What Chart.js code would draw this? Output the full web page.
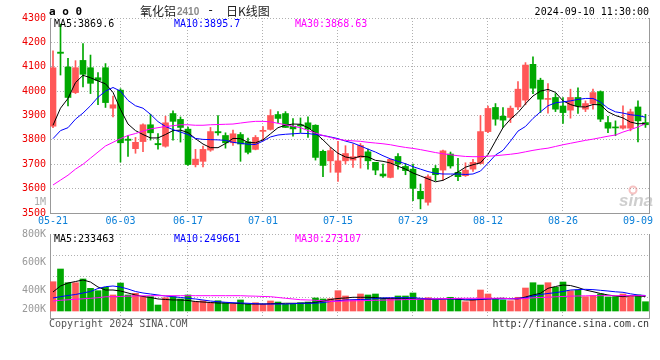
<!DOCTYPE html>
<html><head><meta charset="utf-8">
<script src="https://cdn.jsdelivr.net/npm/chart.js@4.4.1/dist/chart.umd.min.js"></script>
<style>
html,body{margin:0;padding:0;background:#fff;}
#wrap{position:relative;width:660px;height:360px;overflow:hidden;}
canvas{position:absolute;left:0;top:0;}
</style></head>
<body><div id="wrap"><canvas id="k" width="660" height="360"></canvas><canvas id="v" width="660" height="360"></canvas></div>
<script>
const dates = ['05-21','05-22','05-23','05-24','05-27','05-28','05-29','05-30','05-31',
 '06-03','06-04','06-05','06-06','06-07','06-11','06-12','06-13','06-14','06-17','06-18','06-19','06-20','06-21','06-24','06-25','06-26','06-27','06-28',
 '07-01','07-02','07-03','07-04','07-05','07-08','07-09','07-10','07-11','07-12','07-15','07-16','07-17','07-18','07-19','07-22','07-23','07-24','07-25','07-26','07-29','07-30','07-31',
 '08-01','08-02','08-05','08-06','08-07','08-08','08-09','08-12','08-13','08-14','08-15','08-16','08-19','08-20','08-21','08-22','08-23','08-26','08-27','08-28','08-29','08-30',
 '09-02','09-03','09-04','09-05','09-06','09-09','09-10'];
const dateTicks = ['05-21','06-03','06-17','07-01','07-15','07-29','08-12','08-26','09-09'];

const openP = [3856,4160,4099,3994,4126,4096,4055,4096,3930,4004,
 3803,3764,3793,3862,3785,3774,3908,3884,3844,3698,
 3712,3758,3834,3818,3788,3822,3792,3761,3835,3843,
 3904,3908,3856,3862,3870,3860,3753,3714,3667,3714,
 3717,3728,3751,3708,3660,3646,3732,3691,3680,3589,
 3544,3683,3676,3742,3667,3653,3680,3703,3834,3933,
 3897,3892,3935,3963,4110,4045,3966,3974,3939,3922,
 3974,3926,3949,3998,3871,3853,3848,3848,3935,3871];
const highP = [4165,4275,4135,4125,4195,4148,4076,4113,3980,4010,
 3818,3810,3866,3905,3826,3897,3919,3894,3852,3761,
 3775,3851,3900,3829,3840,3830,3807,3818,3855,3924,
 3916,3916,3887,3890,3895,3862,3758,3769,3794,3776,
 3783,3785,3762,3708,3701,3722,3744,3703,3701,3619,
 3657,3695,3758,3750,3724,3706,3720,3900,3939,3949,
 3933,3939,4039,4117,4141,4053,4031,3990,3974,4008,
 4014,3960,4008,4001,3897,3878,3940,3926,3960,3905];
const lowP = [3850,4066,3939,3990,4017,3990,3944,3933,3894,3709,
 3732,3745,3752,3799,3762,3770,3799,3791,3695,3689,
 3689,3753,3819,3766,3777,3712,3742,3759,3796,3840,
 3870,3851,3815,3830,3810,3717,3649,3667,3630,3701,
 3687,3684,3680,3657,3646,3644,3680,3657,3551,3517,
 3532,3633,3635,3684,3633,3650,3671,3701,3830,3860,
 3851,3871,3924,3944,3990,3912,3910,3916,3867,3889,
 3909,3916,3926,3875,3830,3817,3844,3837,3792,3851];
const closeP = [4096,4155,3974,4096,4069,4032,4044,3953,3944,3788,
 3798,3790,3862,3829,3780,3870,3876,3851,3699,3721,
 3761,3834,3829,3788,3825,3783,3749,3810,3839,3900,
 3888,3851,3845,3857,3845,3728,3695,3756,3714,3744,
 3731,3777,3714,3676,3652,3720,3701,3674,3601,3558,
 3649,3657,3755,3693,3649,3676,3708,3834,3929,3885,
 3881,3930,4008,4107,4012,3967,3970,3926,3912,3974,
 3939,3949,3994,3885,3848,3849,3858,3915,3878,3862];

const ma5 = [3860,3930,3970,4035,4065,4055,4042,4030,3995,3925,
 3865,3838,3822,3808,3808,3822,3838,3840,3830,3805,
 3783,3768,3768,3785,3806,3805,3790,3788,3800,3825,
 3850,3860,3865,3864,3850,3828,3800,3770,3745,3730,
 3724,3733,3730,3716,3712,3705,3692,3680,3664,3652,
 3640,3628,3634,3650,3668,3688,3698,3706,3740,3795,
 3850,3885,3912,3948,3980,4000,4007,3995,3960,3945,
 3936,3935,3945,3944,3915,3900,3890,3873,3866,3867];
const ma10 = [3805,3838,3850,3885,3910,3940,3975,4000,4015,4000,
 3962,3940,3930,3905,3875,3855,3842,3832,3822,3806,
 3802,3801,3800,3798,3790,3786,3782,3781,3795,3812,
 3820,3823,3825,3827,3826,3822,3818,3812,3805,3795,
 3787,3775,3762,3750,3735,3722,3712,3702,3690,3680,
 3670,3663,3660,3660,3660,3658,3660,3672,3704,3738,
 3757,3795,3836,3855,3888,3915,3940,3952,3956,3960,
 3966,3970,3970,3955,3930,3915,3910,3903,3900,3893];
const ma30 = [3615,3635,3655,3680,3700,3725,3750,3775,3790,3805,
 3818,3826,3836,3845,3850,3855,3858,3862,3862,3860,
 3860,3862,3863,3864,3865,3869,3873,3876,3876,3874,
 3868,3862,3856,3850,3838,3828,3818,3810,3802,3798,
 3796,3794,3790,3787,3784,3780,3774,3769,3765,3760,
 3754,3748,3743,3739,3735,3732,3731,3731,3733,3735,
 3738,3741,3745,3751,3757,3762,3766,3773,3780,3786,
 3792,3798,3803,3809,3815,3820,3832,3842,3853,3866];

const volume = [470000,674000,454000,454000,514000,364000,326000,380000,257000,449000,
 257000,284000,230000,230000,96000,213000,230000,193000,257000,149000,
 165000,133000,165000,133000,108000,177000,108000,133000,108000,161000,
 144000,108000,108000,133000,144000,209000,193000,197000,326000,241000,
 177000,273000,257000,273000,209000,209000,241000,241000,289000,197000,
 213000,177000,177000,220000,204000,149000,177000,337000,273000,197000,
 177000,165000,220000,369000,454000,417000,454000,380000,465000,326000,
 337000,230000,246000,273000,225000,230000,273000,241000,257000,149000];
const vma5 = [305000,401000,449000,473000,498000,465000,385000,337000,337000,321000,
 289000,257000,233000,217000,193000,185000,177000,177000,169000,152000,
 144000,136000,128000,128000,124000,120000,112000,112000,112000,116000,
 120000,124000,124000,124000,128000,136000,160000,185000,201000,209000,
 220000,220000,220000,217000,201000,197000,197000,197000,193000,188000,
 188000,188000,193000,197000,188000,177000,177000,185000,197000,201000,
 204000,197000,193000,225000,257000,284000,364000,393000,417000,409000,
 377000,337000,310000,281000,257000,241000,230000,246000,241000,233000];
const vma10 = [209000,230000,249000,265000,289000,313000,361000,390000,401000,385000,
 353000,313000,289000,273000,257000,241000,230000,217000,204000,193000,
 177000,160000,149000,140000,133000,128000,124000,117000,112000,112000,
 112000,112000,117000,124000,124000,124000,136000,152000,165000,177000,
 181000,185000,188000,201000,210000,213000,213000,213000,213000,204000,
 196000,193000,193000,193000,193000,189000,188000,189000,193000,193000,
 194000,197000,204000,212000,241000,265000,281000,294000,313000,337000,
 343000,348000,343000,332000,321000,308000,300000,276000,257000,249000];
const vma30 = [160000,172000,180000,188000,196000,204000,213000,228000,230000,233000,
 239000,241000,244000,246000,246000,246000,246000,246000,246000,246000,
 246000,246000,246000,246000,246000,246000,241000,238000,233000,230000,
 217000,204000,193000,181000,177000,172000,164000,152000,156000,160000,
 164000,165000,169000,172000,175000,177000,180000,183000,186000,189000,
 193000,196000,199000,201000,202000,204000,204000,204000,204000,204000,
 204000,197000,194000,201000,212000,217000,221000,228000,233000,238000,
 241000,244000,246000,246000,246000,246000,246000,246000,246000,246000];

const maLegend = ['MA5:3869.6','MA10:3895.7','MA30:3868.63'];
const volLegend = ['MA5:233463','MA10:249661','MA30:273107'];
const titleParts = ['氧化铝','2410','-','日K线图'];
const stamp = '2024-09-10 11:30:00';

const MONO = '"DejaVu Sans Mono", "Liberation Mono", monospace';
const RED = '#ff5757', GREEN = '#00a800';
const GRID = '#b0b0b0', FRAME = '#999999';

const candleColors = dates.map((d,i)=> closeP[i] >= openP[i] ? RED : GREEN);
const pts = arr => arr.map((v,i)=>({x:i, y:v}));
const xMin = -0.4, xMax = 79.47;
const edgeTicks = [dates.indexOf('05-21'), dates.indexOf('09-09')];
function xTicks(s){ s.ticks = dateTicks.map(d=>({value: dates.indexOf(d)})); }
function gridX(ctx){ return (ctx.tick && edgeTicks.includes(ctx.tick.value)) ? 'rgba(0,0,0,0)' : GRID; }

Chart.defaults.font.family = MONO;
Chart.defaults.font.size = 10;

const kText = {
  id:'kText',
  afterDraw(chart){
    const c = chart.ctx; c.save();
    c.textBaseline = 'middle'; c.textAlign = 'left';
    c.font = 'bold 11px ' + MONO; c.fillStyle = '#000';
    c.fillText('a o 0', 49, 12);
    c.font = '12px "Noto Sans CJK SC"'; c.fillStyle = '#222';
    c.fillText(titleParts[0], 140, 11);
    c.font = 'bold 10px "Liberation Sans"'; c.fillStyle = '#888';
    c.fillText(titleParts[1], 177, 12);
    c.font = '12px ' + MONO; c.fillStyle = '#222';
    c.fillText(titleParts[2], 207, 11);
    c.font = '12px "Noto Sans CJK SC"';
    c.fillText(titleParts[3], 226, 11);
    c.font = '10px ' + MONO; c.fillStyle = '#000'; c.textAlign = 'right';
    c.fillText(stamp, 649, 12);
    c.textAlign = 'left';
    c.fillStyle = '#000'; c.fillText(maLegend[0], 54, 24);
    c.fillStyle = '#0000ff'; c.fillText(maLegend[1], 174, 24);
    c.fillStyle = '#ff00ff'; c.fillText(maLegend[2], 295, 24);
    c.fillStyle = '#aaa'; c.textAlign = 'right'; c.fillText('1M', 46, 202);
    c.textAlign = 'left'; c.textBaseline = 'alphabetic';
    c.font = 'italic bold 17px "Liberation Sans"'; c.fillStyle = 'rgba(165,165,165,0.55)';
    c.fillText('sina', 619, 206);
    c.beginPath(); c.arc(633, 190, 3.5, 0, Math.PI*2);
    c.strokeStyle = 'rgba(235,120,120,0.45)'; c.lineWidth = 2; c.stroke();
    c.restore();
  }
};
const vText = {
  id:'vText',
  afterDraw(chart){
    const c = chart.ctx; c.save();
    c.textBaseline = 'middle'; c.textAlign = 'left'; c.font = '10px ' + MONO;
    c.fillStyle = '#000'; c.fillText(volLegend[0], 54, 239);
    c.fillStyle = '#0000ff'; c.fillText(volLegend[1], 174, 239);
    c.fillStyle = '#ff00ff'; c.fillText(volLegend[2], 295, 239);
    c.fillStyle = '#555'; c.fillText('Copyright 2024 SINA.COM', 49, 324);
    c.fillStyle = '#333'; c.textAlign = 'right'; c.fillText('http://finance.sina.com.cn', 649, 324);
    c.restore();
  }
};

const lineDs = (arr, color, axis) => ({type:'line', data: pts(arr), borderColor: color, borderWidth: 1,
  pointRadius: 0, tension: 0, order: 0, yAxisID: axis, xAxisID: 'x'});

new Chart(document.getElementById('k'), {
  type: 'bar',
  data: { datasets: [
    {type:'bar', data: dates.map((d,i)=>({x:i, y:[lowP[i], highP[i]]})), backgroundColor: candleColors,
      barThickness: 1, grouped: false, order: 2, yAxisID:'y', xAxisID:'x'},
    {type:'bar', data: dates.map((d,i)=>({x:i, y:[openP[i], closeP[i]]})), backgroundColor: candleColors,
      barThickness: 6, grouped: false, minBarLength: 1, order: 1, yAxisID:'y', xAxisID:'x'},
    lineDs(ma30, '#ff00ff', 'y'),
    lineDs(ma10, '#0000ff', 'y'),
    lineDs(ma5, '#000000', 'y')
  ]},
  options: {
    responsive: false, animation: false, devicePixelRatio: 1,
    layout: { padding: { top: 18, right: 11, left: 0, bottom: 0 } },
    plugins: { legend: {display:false}, tooltip: {enabled:false} },
    scales: {
      x: { type:'linear', min: xMin, max: xMax, offset: false, afterBuildTicks: xTicks,
        afterFit(s){ s.height = 147; },
        ticks: { callback: v => dates[v], color:'#0a7fd8', font:{family:MONO,size:10}, padding: 2,
          maxRotation: 0, autoSkip: false },
        grid: { color: gridX, drawTicks: false, offset: false },
        border: { display:true, color: FRAME, dash:[1,2] } },
      y: { type:'linear', position:'left', min: 3500, max: 4300,
        afterFit(s){ s.width = 50; },
        ticks: { stepSize: 100, color:'#ee0000', font:{family:MONO,size:10}, padding: 4, autoSkip:false,
          callback: v => String(v) },
        grid: { color: GRID, drawTicks: false },
        border: { display:true, color: FRAME, dash:[1,2] } },
      yr: { type:'linear', position:'right', min: 3500, max: 4300,
        afterFit(s){ s.width = 0; },
        ticks: { display:false }, grid: { display:false, drawTicks:false },
        border: { display:true, color: FRAME } }
    }
  },
  plugins: [kText]
});

new Chart(document.getElementById('v'), {
  type: 'bar',
  data: { datasets: [
    {type:'bar', data: pts(volume), backgroundColor: candleColors, barThickness: 6, grouped:false,
      order: 1, yAxisID:'y', xAxisID:'x'},
    lineDs(vma30, '#ff00ff', 'y'),
    lineDs(vma10, '#0000ff', 'y'),
    lineDs(vma5, '#000000', 'y')
  ]},
  options: {
    responsive: false, animation: false, devicePixelRatio: 1,
    layout: { padding: { top: 234, right: 11, left: 0, bottom: 0 } },
    plugins: { legend: {display:false}, tooltip: {enabled:false} },
    scales: {
      x: { type:'linear', min: xMin, max: xMax, offset: false, afterBuildTicks: xTicks,
        afterFit(s){ s.height = 42; },
        ticks: { display:false },
        grid: { color: gridX, drawTicks: false, offset: false },
        border: { display:true, color: FRAME, dash:[1,2] } },
      y: { display:false, min: -112350, max: 1235850 },
      yl: { type:'linear', position:'left', min: 200000, max: 800000,
        afterFit(s){ s.width = 50; },
        ticks: { stepSize: 200000, color:'#999', font:{family:MONO,size:10,lineHeight:1.8}, padding: 4,
          autoSkip: false, callback: v => v === 200000 ? ['200K',''] : (v/1000) + 'K' },
        grid: { display:false, drawTicks:false },
        border: { display:true, color: FRAME } },
      yg: { type:'linear', position:'right', min: 0, max: 4,
        afterFit(s){ s.width = 0; },
        ticks: { display:false, stepSize: 1 },
        grid: { color: GRID, drawTicks: false },
        border: { display:true, color: FRAME, dash:[1,2] } }
    }
  },
  plugins: [vText]
});
</script>
</body></html>
